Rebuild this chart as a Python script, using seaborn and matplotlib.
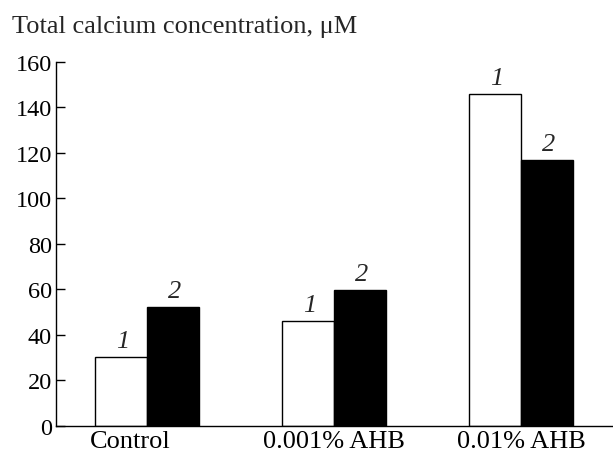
import matplotlib
matplotlib.use("Agg")
import matplotlib.pyplot as plt
import matplotlib.transforms as mtransforms
import seaborn as sns
import pandas as pd

categories = ["Control", "0.001% AHB", "0.01% AHB"]
series_names = ["1", "2"]
series1 = [30, 46, 146]
series2 = [52, 59.5, 117]
y_ticks = [0, 20, 40, 60, 80, 100, 120, 140, 160]

rows = []
for c, v in zip(categories, series1):
    rows.append({"cat": c, "series": series_names[0], "value": v})
for c, v in zip(categories, series2):
    rows.append({"cat": c, "series": series_names[1], "value": v})
df = pd.DataFrame(rows)

sns.set_style("ticks")
plt.rcParams["font.family"] = ["Liberation Serif", "DejaVu Serif"]

fig = plt.figure(figsize=(6.13, 4.56), dpi=100)
ax = fig.add_axes([56 / 613, 29.3 / 456, (612 - 56) / 613, (426.7 - 62.7) / 456])

sns.barplot(data=df, x="cat", y="value", hue="series", order=categories,
            hue_order=series_names, palette=["white", "black"],
            edgecolor="black", linewidth=1.0, width=0.556, ax=ax,
            legend=False, errorbar=None, saturation=1)

for container, name in zip(ax.containers, series_names):
    for bar in container:
        ax.annotate(name, (bar.get_x() + bar.get_width() / 2, bar.get_height()),
                    xytext=(1, 7.2), textcoords="offset points",
                    ha="center", va="baseline", fontsize=19, style="italic")

ax.set_xlim(-0.487, 2.487)
ax.set_ylim(0, 160)
ax.set_yticks(y_ticks)
ax.tick_params(axis="y", direction="in", length=6.5, width=1, labelsize=17.5,
               pad=3, colors="black")
ax.tick_params(axis="x", length=0, labelsize=19, pad=3, colors="black")
ax.set_xlabel("")
ax.set_ylabel("")
for s in ["top", "right"]:
    ax.spines[s].set_visible(False)
for s in ["left", "bottom"]:
    ax.spines[s].set_linewidth(1)
    ax.spines[s].set_color("black")

# shift Control label slightly left as in reference
labels = ax.get_xticklabels()
off = mtransforms.ScaledTranslation(-17 / 100, 0, fig.dpi_scale_trans)
labels[0].set_transform(labels[0].get_transform() + off)

fig.text(12 / 613, 1 - 33 / 456, "Total calcium concentration, μM",
         fontsize=19, ha="left", va="baseline")

fig.savefig("out.png", dpi=100)
